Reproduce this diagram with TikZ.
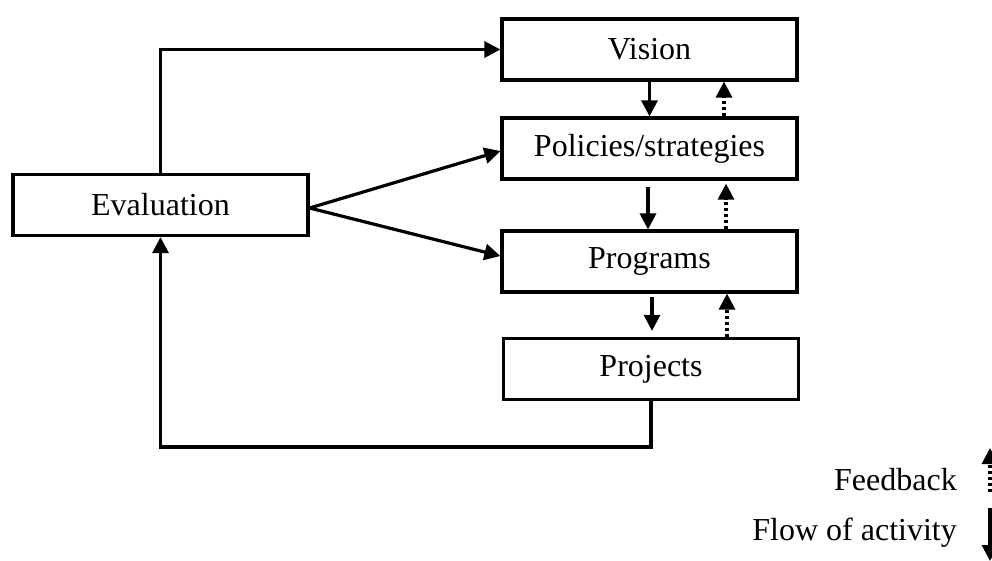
\documentclass[tikz,border=0pt]{standalone}
\usepackage{fontspec}
\setmainfont{Liberation Serif}
\usetikzlibrary{arrows.meta,calc}
\begin{document}
\begin{tikzpicture}[x=1pt,y=-1pt,
  txt/.style={font=\fontsize{32}{38}\selectfont},
  box/.style={txt,draw,line width=3.2pt,minimum width=295pt,minimum height=61pt,inner sep=0pt},
  flow/.style={line width=3.2pt,-{Triangle[length=16pt,width=16pt]}},
  fb/.style={flow,dash pattern=on 3pt off 3pt}]
\useasboundingbox (0,0) rectangle (992,560);
\node[box] (vision) at (649.5,49.5) {Vision};
\node[box] (policies) at (649.5,148.5) {Policies/strategies};
\node[box] (programs) at (649.5,261.5) {Programs};
\node[box] (projects) at (651,369) {Projects};
\node[box] (eval) at (160.5,205) {Evaluation};
% evaluation outputs
\draw[flow] (eval.north) |- (vision.west);
\draw[flow] ([yshift=-3pt]eval.east) -- ([yshift=-2.5pt]policies.west);
\draw[flow] ([yshift=-3pt]eval.east) -- ([yshift=5.5pt]programs.west);
% flow of activity
\draw[flow] (vision.south) -- (policies.north);
\draw[flow] ([xshift=-1.5pt,yshift=-6pt]policies.south) -- ([xshift=-1.5pt]programs.north);
\draw[flow] ([xshift=2.5pt,yshift=-3pt]programs.south) -- ([xshift=1pt,yshift=6pt]projects.north);
% feedback
\draw[fb] ([xshift=74.5pt]policies.north) -- ([xshift=74.5pt]vision.south);
\draw[fb] ([xshift=76.5pt]programs.north) -- ([xshift=76.5pt,yshift=-3pt]policies.south);
\draw[fb] ([xshift=76pt]projects.north) -- ([xshift=77.5pt]programs.south);
% back to evaluation
\coordinate (corner) at (651,447);
\draw[flow] (projects.south) -- (corner) -| (eval.south);
% legend
\node[txt,anchor=base east,inner sep=0pt] (fbtext) at (957,490) {Feedback};
\node[txt,anchor=base east,inner sep=0pt] (flowtext) at (957,540) {Flow of activity};
\coordinate (fba) at (990,492);
\coordinate (fbb) at (990,448);
\coordinate (fla) at (990,508);
\coordinate (flb) at (990,561);
\draw[fb] (fba) -- (fbb);
\draw[flow] (fla) -- (flb);
\end{tikzpicture}
\end{document}
